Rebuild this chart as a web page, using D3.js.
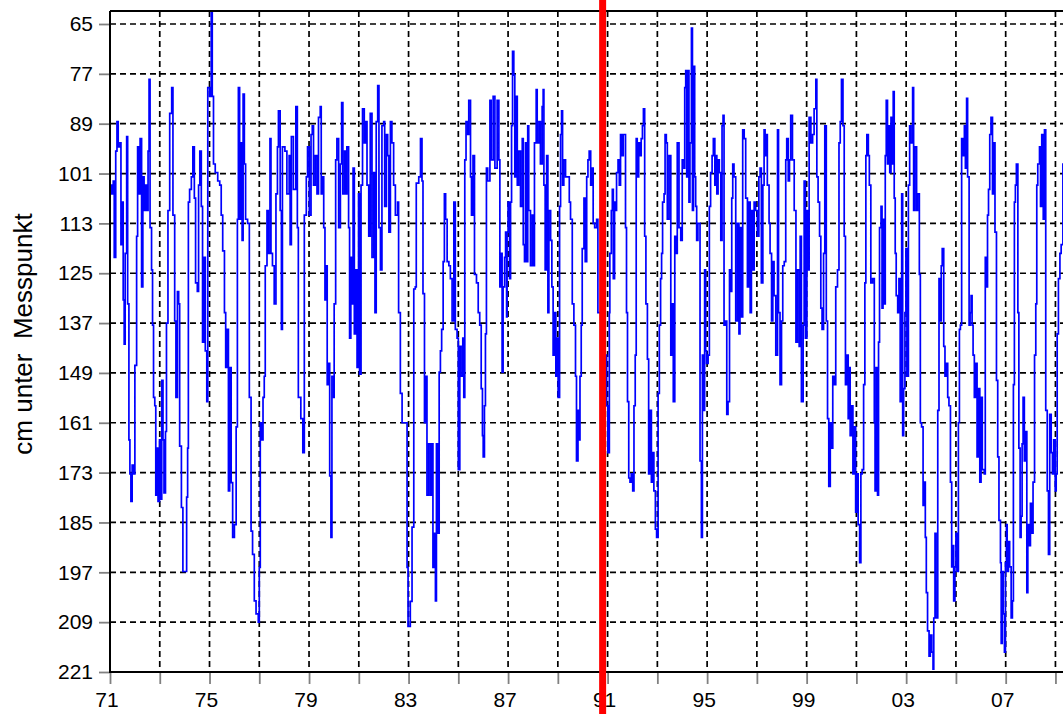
<!DOCTYPE html>
<html><head><meta charset="utf-8">
<script src="https://cdn.jsdelivr.net/npm/d3@7"></script>
<style>
html,body{margin:0;padding:0;background:#fff;}
svg{display:block;}
</style>
</head><body>
<svg id="chart" width="1063" height="714"></svg>
<script>
// ---------- data ----------
const yTickValues = [65,77,89,101,113,125,137,149,161,173,185,197,209,221];
const xTickYears = [1971,1973,1975,1977,1979,1981,1983,1985,1987,1989,1991,1993,1995,1997,1999,2001,2003,2005,2007,2009];
const xLabelYears = [1971,1975,1979,1983,1987,1991,1995,1999,2003,2007];
const markerYear = 1990.8;
const yAxisTitle = "cm unter  Messpunkt";

// groundwater level readings [year, cm below reference point]
const levels1971 = [[1971.00,103.8],[1971.07,105.9],[1971.13,102.8],[1971.17,121.2],[1971.23,95.6],[1971.28,88.5],[1971.33,94.6],[1971.40,93.6],[1971.44,118.1],[1971.49,107.9],[1971.53,131.4],[1971.57,142.1],[1971.61,120.2],[1971.67,92.1],[1971.71,132.4],[1971.76,165.1],[1971.80,173.3],[1971.84,179.9],[1971.89,171.2],[1971.95,173.3],[1972.00,147.2],[1972.07,116.1],[1972.11,94.6],[1972.16,105.9],[1972.21,92.6],[1972.27,128.3],[1972.32,101.8],[1972.37,109.9],[1972.43,103.8],[1972.48,109.9],[1972.53,95.6],[1972.57,78.3],[1972.61,114.0],[1972.67,124.2],[1972.71,137.5],[1972.75,154.9],[1972.80,156.9],[1972.84,178.4],[1972.89,167.1],[1972.93,179.9],[1972.99,165.1],[1973.04,179.4],[1973.08,150.8],[1973.13,165.1],[1973.17,177.9],[1973.23,163.1],[1973.27,137.0],[1973.33,109.9],[1973.40,86.5],[1973.48,80.3],[1973.53,111.0],[1973.60,136.5],[1973.65,154.9],[1973.71,129.4],[1973.76,132.4],[1973.80,166.6],[1973.87,181.4],[1973.93,196.8],[1974.04,196.8],[1974.08,178.9],[1974.12,167.1],[1974.15,107.9],[1974.20,104.8],[1974.27,101.8],[1974.33,94.6],[1974.39,106.9],[1974.44,127.3],[1974.51,129.4],[1974.56,103.8],[1974.61,95.6],[1974.67,108.9],[1974.72,141.6],[1974.77,121.2],[1974.83,143.7],[1974.89,155.9],[1974.93,80.3],[1975.01,82.4],[1975.07,62.0],[1975.11,82.4],[1975.16,98.7],[1975.23,100.8],[1975.33,102.8],[1975.41,103.8],[1975.47,111.0],[1975.53,119.6],[1975.60,134.5],[1975.65,147.7],[1975.71,138.5],[1975.76,177.4],[1975.81,147.7],[1975.87,175.4],[1975.93,188.6],[1976.00,185.5],[1976.07,162.0],[1976.12,112.0],[1976.16,80.3],[1976.21,112.0],[1976.27,93.6],[1976.31,117.1],[1976.35,81.9],[1976.40,98.7],[1976.45,112.0],[1976.53,113.0],[1976.60,154.9],[1976.67,187.1],[1976.73,192.7],[1976.80,203.9],[1976.87,207.0],[1976.96,209.0],[1977.00,195.8],[1977.04,161.0],[1977.09,165.1],[1977.15,154.9],[1977.20,149.8],[1977.24,123.2],[1977.31,109.9],[1977.36,120.2],[1977.43,92.6],[1977.47,120.2],[1977.53,123.2],[1977.60,132.4],[1977.67,105.9],[1977.73,94.6],[1977.77,85.9],[1977.84,109.9],[1977.89,138.5],[1977.93,94.6],[1978.03,95.6],[1978.11,105.9],[1978.20,96.7],[1978.24,118.1],[1978.29,92.1],[1978.37,104.8],[1978.47,84.9],[1978.53,114.0],[1978.57,154.9]];

const levels1979 = [[1978.67,160.0],[1978.75,168.2],[1978.81,111.0],[1978.89,101.8],[1978.94,94.6],[1979.01,111.0],[1979.08,91.6],[1979.13,89.5],[1979.18,103.8],[1979.25,96.7],[1979.32,105.9],[1979.38,87.5],[1979.45,84.9],[1979.49,105.9],[1979.53,101.8],[1979.59,114.0],[1979.64,131.4],[1979.69,123.2],[1979.73,151.8],[1979.79,146.7],[1979.83,173.8],[1979.88,188.6],[1979.92,149.8],[1979.99,154.9],[1980.01,132.4],[1980.07,97.7],[1980.12,92.6],[1980.19,114.0],[1980.26,98.7],[1980.31,83.9],[1980.36,105.9],[1980.43,95.6],[1980.48,105.9],[1980.52,94.6],[1980.59,114.0],[1980.63,140.6],[1980.68,121.2],[1980.72,132.4],[1980.77,99.7],[1980.82,139.6],[1980.87,124.2],[1980.93,147.7],[1980.99,105.9],[1981.03,149.3],[1981.09,103.8],[1981.15,85.4],[1981.22,93.6],[1981.28,88.5],[1981.33,103.8],[1981.40,116.1],[1981.46,86.5],[1981.53,121.2],[1981.60,100.8],[1981.65,134.5],[1981.70,88.5],[1981.76,79.8],[1981.81,114.0],[1981.87,124.2],[1981.93,89.5],[1982.00,88.5],[1982.04,108.9],[1982.11,91.6],[1982.16,96.7],[1982.21,115.1],[1982.27,88.5],[1982.33,93.6],[1982.40,103.8],[1982.47,111.0],[1982.56,107.9],[1982.60,134.5],[1982.67,153.9],[1982.74,161.0],[1982.94,195.8],[1982.98,210.0],[1983.07,204.0],[1983.14,186.1],[1983.21,128.8],[1983.27,128.3],[1983.31,103.3],[1983.41,101.8],[1983.48,92.6],[1983.54,102.8],[1983.58,129.9],[1983.64,161.0],[1983.70,149.8],[1983.74,178.4],[1983.81,166.1],[1983.88,178.4],[1983.94,166.1],[1983.98,195.8],[1984.04,187.6],[1984.08,203.9],[1984.12,166.1],[1984.17,187.6],[1984.23,148.8],[1984.28,143.7],[1984.33,138.5],[1984.39,122.2],[1984.44,105.9],[1984.49,112.0],[1984.55,122.2],[1984.62,123.2],[1984.68,126.3],[1984.75,136.5],[1984.82,107.9],[1984.88,138.5],[1984.95,140.6],[1985.00,172.3],[1985.06,142.6],[1985.11,149.8],[1985.18,140.6],[1985.22,154.9],[1985.26,97.7],[1985.31,88.5],[1985.38,91.6],[1985.42,83.4],[1985.49,101.8],[1985.53,111.0],[1985.59,96.7],[1985.65,125.3],[1985.73,127.3],[1985.80,134.5],[1985.86,137.5],[1985.92,152.8],[1985.97,164.1],[1986.00,169.2],[1986.05,156.9],[1986.09,139.6],[1986.13,99.7],[1986.18,102.8],[1986.27,83.4],[1986.32,97.7],[1986.40,82.4],[1986.47,99.7]];

const levels1987 = [[1986.56,83.4],[1986.63,97.7],[1986.67,128.3],[1986.72,120.2],[1986.76,148.8],[1986.80,128.3],[1986.86,121.2],[1986.90,115.1],[1986.94,135.5],[1986.96,115.1],[1987.00,107.9],[1987.06,126.3],[1987.10,107.9],[1987.14,89.5],[1987.18,71.6],[1987.23,77.3],[1987.27,101.8],[1987.31,82.4],[1987.37,103.8],[1987.43,95.6],[1987.50,108.9],[1987.57,92.6],[1987.61,118.1],[1987.66,122.2],[1987.70,93.6],[1987.74,122.2],[1987.79,89.5],[1987.83,109.9],[1987.90,123.2],[1987.97,111.0],[1988.01,123.2],[1988.06,93.6],[1988.13,80.8],[1988.17,93.6],[1988.24,88.5],[1988.30,98.7],[1988.37,84.9],[1988.41,80.8],[1988.44,103.8],[1988.49,124.2],[1988.55,96.7],[1988.60,134.5],[1988.64,109.9],[1988.71,117.1],[1988.76,128.3],[1988.81,144.7],[1988.87,134.5],[1988.92,149.8],[1988.97,140.6],[1989.01,154.9],[1989.07,108.9],[1989.11,91.6],[1989.15,85.9],[1989.19,103.8],[1989.24,97.7],[1989.31,101.8],[1989.38,101.8],[1989.46,107.9],[1989.51,112.0],[1989.58,132.4],[1989.645,137.5],[1989.71,149.8],[1989.75,170.2],[1989.81,158.0],[1989.85,165.1],[1989.89,149.8],[1989.94,137.5],[1989.98,119.1],[1990.05,106.9],[1990.10,122.2],[1990.16,101.8],[1990.21,97.7],[1990.26,95.6],[1990.32,103.8],[1990.37,99.7],[1990.42,113.0],[1990.48,114.0],[1990.56,112.0],[1990.61,134.5],[1990.79,144.7],[1990.96,156.9],[1991.01,168.2],[1991.07,134.5],[1991.09,120.2],[1991.15,109.9],[1991.19,104.8],[1991.23,126.3],[1991.28,107.9],[1991.32,109.9],[1991.36,100.8],[1991.42,97.7],[1991.47,103.8],[1991.52,91.6],[1991.58,96.7],[1991.63,91.6],[1991.68,91.6],[1991.72,114.0],[1991.76,134.5],[1991.80,155.9],[1991.85,174.3],[1991.90,175.3],[1991.95,173.3],[1992.01,177.4],[1992.06,156.9],[1992.11,144.7],[1992.15,92.6],[1992.19,101.8],[1992.25,93.6],[1992.30,96.7],[1992.35,92.6],[1992.40,89.5],[1992.44,85.4],[1992.49,116.1],[1992.54,132.4],[1992.60,145.7],[1992.65,173.3],[1992.70,158.0],[1992.76,175.3],[1992.81,168.2],[1992.86,177.4],[1992.92,186.6],[1992.97,188.6],[1993.03,153.9],[1993.08,137.5],[1993.13,126.3],[1993.17,120.2],[1993.21,107.9],[1993.27,105.9],[1993.31,91.6],[1993.36,93.6],[1993.40,112.0],[1993.47,96.7],[1993.54,144.7],[1993.60,132.4],[1993.64,155.9],[1993.70,116.1],[1993.74,120.2],[1993.80,93.6],[1993.87,114.0],[1993.94,117.1],[1994.00,97.7],[1994.07,99.7]];

const levels1995 = [[1994.10,80.3],[1994.14,76.2],[1994.18,101.8],[1994.23,76.2],[1994.27,107.9],[1994.31,93.6],[1994.37,66.0],[1994.41,109.9],[1994.45,75.2],[1994.50,101.8],[1994.54,108.9],[1994.58,117.1],[1994.63,113.0],[1994.69,113.0],[1994.715,170.2],[1994.77,188.6],[1994.81,144.7],[1994.85,158.0],[1994.90,124.2],[1994.94,143.7],[1994.98,146.7],[1995.04,144.7],[1995.09,108.9],[1995.14,100.8],[1995.20,96.7],[1995.25,92.6],[1995.31,103.8],[1995.35,96.7],[1995.39,105.9],[1995.44,97.7],[1995.49,100.8],[1995.55,117.1],[1995.60,89.5],[1995.64,87.0],[1995.68,137.5],[1995.73,136.5],[1995.79,159.0],[1995.84,155.9],[1995.90,124.2],[1995.95,129.4],[1995.99,106.9],[1996.03,98.7],[1996.08,101.8],[1996.15,136.5],[1996.22,113.0],[1996.28,139.6],[1996.32,114.0],[1996.38,135.5],[1996.43,90.5],[1996.49,92.6],[1996.55,106.9],[1996.62,128.3],[1996.67,107.9],[1996.73,134.5],[1996.78,109.9],[1996.83,124.2],[1996.89,107.9],[1996.95,109.9],[1997.02,116.1],[1997.08,101.8],[1997.13,99.7],[1997.18,127.3],[1997.24,103.8],[1997.29,90.5],[1997.33,96.7],[1997.38,91.6],[1997.42,103.8],[1997.49,113.0],[1997.53,120.2],[1997.59,136.5],[1997.64,122.2],[1997.69,130.4],[1997.76,144.7],[1997.83,90.5],[1997.87,134.5],[1997.93,151.8],[1997.99,136.5],[1998.04,123.2],[1998.10,122.2],[1998.16,97.7],[1998.20,92.6],[1998.26,102.8],[1998.31,97.7],[1998.36,87.0],[1998.43,97.7],[1998.50,109.9],[1998.57,141.6],[1998.63,124.2],[1998.70,142.6],[1998.74,116.1],[1998.79,155.9],[1998.86,137.5],[1998.90,102.8],[1998.95,140.6],[1999.01,109.9],[1999.06,124.2],[1999.10,87.5],[1999.17,93.6],[1999.24,91.6],[1999.30,85.4],[1999.37,78.3],[1999.41,101.8],[1999.46,107.9],[1999.52,116.1],[1999.57,133.4],[1999.62,138.5],[1999.68,120.2],[1999.73,89.5],[1999.79,136.5],[1999.84,160.0],[1999.89,176.3],[1999.95,161.0],[2000.00,167.1],[2000.05,149.8],[2000.11,151.8],[2000.17,128.3],[2000.24,124.2],[2000.30,93.6],[2000.35,88.5],[2000.40,78.3],[2000.46,89.5],[2000.51,116.1],[2000.56,151.8],[2000.62,144.7],[2000.67,160.0],[2000.71,147.7],[2000.75,164.1],[2000.80,156.9],[2000.86,173.3],[2000.91,162.0],[2000.97,182.5],[2001.02,173.3],[2001.07,185.5],[2001.13,194.7],[2001.18,173.3],[2001.23,172.3],[2001.29,151.8],[2001.34,127.3],[2001.38,96.7],[2001.42,91.6],[2001.48,96.7],[2001.52,103.8],[2001.58,127.3],[2001.65,126.3],[2001.72,161.0]];

const levels2002 = [[2001.75,177.4],[2001.79,147.7],[2001.83,175.3],[2001.85,178.4],[2001.89,141.6],[2001.93,114.0],[2001.99,108.9],[2002.03,133.4],[2002.07,112.0],[2002.12,132.4],[2002.16,96.7],[2002.20,83.4],[2002.25,98.7],[2002.30,89.5],[2002.34,100.8],[2002.39,87.5],[2002.43,98.7],[2002.48,81.3],[2002.52,106.9],[2002.56,120.2],[2002.60,130.4],[2002.66,134.5],[2002.71,126.3],[2002.76,155.9],[2002.82,105.9],[2002.86,164.1],[2002.90,152.8],[2002.95,134.5],[2002.99,119.1],[2003.03,149.8],[2003.09,103.8],[2003.14,89.5],[2003.19,93.6],[2003.26,80.3],[2003.30,109.9],[2003.35,94.6],[2003.42,109.9],[2003.46,105.9],[2003.53,125.3],[2003.57,161.0],[2003.62,162.0],[2003.68,180.9],[2003.73,175.3],[2003.77,188.6],[2003.81,201.9],[2003.86,211.1],[2003.92,217.2],[2003.97,212.1],[2004.03,216.2],[2004.08,220.3],[2004.11,208.0],[2004.16,187.6],[2004.20,208.0],[2004.27,158.0],[2004.32,126.3],[2004.37,136.5],[2004.41,123.2],[2004.45,119.1],[2004.51,142.6],[2004.56,149.8],[2004.62,146.7],[2004.67,154.9],[2004.72,156.9],[2004.78,175.3],[2004.83,195.7],[2004.87,190.6],[2004.91,203.9],[2004.96,195.7],[2005.00,187.6],[2005.04,196.8],[2005.10,161.0],[2005.14,138.5],[2005.18,137.5],[2005.23,92.6],[2005.29,96.7],[2005.34,89.5],[2005.38,99.7],[2005.43,82.9],[2005.47,101.8],[2005.53,137.5],[2005.57,134.5],[2005.61,130.4],[2005.65,137.5],[2005.69,144.7],[2005.74,154.9],[2005.80,146.7],[2005.85,169.2],[2005.90,152.8],[2005.96,175.3],[2006.01,154.9],[2006.06,172.3],[2006.14,173.3],[2006.18,121.2],[2006.23,128.3],[2006.27,111.0],[2006.31,104.8],[2006.36,91.6],[2006.41,87.5],[2006.47,105.9],[2006.52,93.6],[2006.57,115.1],[2006.63,150.8],[2006.68,169.2],[2006.73,184.5],[2006.79,194.7],[2006.82,214.1],[2006.86,196.8],[2006.90,207.0],[2006.95,216.2],[2006.99,194.7],[2007.03,185.5],[2007.06,196.8],[2007.11,189.6],[2007.16,195.7],[2007.22,208.0],[2007.27,203.9],[2007.31,151.8],[2007.35,107.9],[2007.39,103.8],[2007.43,98.7],[2007.49,134.5],[2007.53,167.1],[2007.58,188.6],[2007.62,183.5],[2007.66,166.1],[2007.70,154.9],[2007.75,170.2],[2007.81,163.1],[2007.85,201.9],[2007.89,185.5],[2007.94,190.6],[2007.995,180.4],[2008.05,187.6],[2008.10,175.3],[2008.16,144.7],[2008.21,132.4],[2008.25,103.8],[2008.29,98.7],[2008.36,94.6],[2008.40,108.9],[2008.45,91.6],[2008.51,112.0],[2008.56,90.5],[2008.61,158.0],[2008.67,177.4],[2008.72,192.7],[2008.77,159.0],[2008.83,168.2],[2008.88,173.3],[2008.93,165.1],[2008.99,177.4],[2009.03,173.3],[2009.07,139.6],[2009.12,126.3],[2009.18,120.2],[2009.23,118.1],[2009.30,98.7],[2009.35,100.8]];

const readings = [].concat(levels1971, levels1979, levels1987, levels1995, levels2002);

// ---------- layout ----------
const W = 1063, H = 714;
const plot = {left: 110, top: 11, bottom: 672};
const FONT = "'Liberation Sans', Arial, sans-serif";

const x = d3.scaleLinear().domain([1971, 2010]).range([110, 110 + 39 * 24.88]);
const y = d3.scaleLinear().domain([65, 221]).range([24, 672]);

const svg = d3.select("#chart");
svg.append("rect").attr("width", W).attr("height", H).attr("fill", "#fff");

svg.append("defs").append("clipPath").attr("id", "plotClip")
  .append("rect").attr("x", plot.left).attr("y", plot.top)
  .attr("width", W - plot.left).attr("height", plot.bottom - plot.top);

// grid
const grid = svg.append("g").attr("stroke", "#000").attr("stroke-width", 1.7)
  .attr("stroke-dasharray", "6,4").attr("fill", "none");
grid.selectAll("line.h").data(yTickValues.filter(v => v !== 221)).join("line")
  .attr("class", "h").attr("x1", plot.left).attr("x2", W)
  .attr("y1", d => y(d)).attr("y2", d => y(d));
grid.selectAll("line.v").data(xTickYears.filter(v => v !== 1971)).join("line")
  .attr("class", "v").attr("y1", plot.top).attr("y2", plot.bottom)
  .attr("x1", d => x(d)).attr("x2", d => x(d));

// data line
const line = d3.line().x(d => x(d[0])).y(d => y(d[1])).curve(d3.curveStepAfter);
svg.append("path").datum(readings)
  .attr("clip-path", "url(#plotClip)")
  .attr("fill", "none").attr("stroke", "#0000ff").attr("stroke-width", 1.7)
  .attr("d", line);

// axes
const yAxis = d3.axisLeft(y).tickValues(yTickValues).tickSize(11).tickPadding(6);
const gy = svg.append("g").attr("transform", `translate(${plot.left},0)`).call(yAxis);
gy.select(".domain").remove();
gy.selectAll(".tick line").attr("stroke", "#808080").attr("stroke-width", 1.8);
gy.selectAll(".tick text").attr("fill", "#000").style("font-family", FONT).style("font-size", "21px");

const xAxis = d3.axisBottom(x).tickValues(xTickYears).tickSize(12).tickPadding(8)
  .tickFormat(d => xLabelYears.includes(d) ? String(d).slice(2) : "");
const gx = svg.append("g").attr("transform", `translate(0,${plot.bottom})`).call(xAxis);
gx.select(".domain").remove();
gx.selectAll(".tick line").attr("stroke", "#808080").attr("stroke-width", 1.8);
gx.selectAll(".tick text").attr("fill", "#000").attr("dx", -3.5)
  .style("font-family", FONT).style("font-size", "21px");

// frame
const frame = svg.append("g").attr("stroke", "#000").attr("stroke-width", 2).attr("fill", "none");
frame.append("line").attr("x1", plot.left).attr("x2", W).attr("y1", plot.top).attr("y2", plot.top);
frame.append("line").attr("x1", plot.left).attr("x2", plot.left).attr("y1", plot.top).attr("y2", plot.bottom + 1);
frame.append("line").attr("x1", plot.left - 1).attr("x2", W).attr("y1", plot.bottom).attr("y2", plot.bottom);

// y-axis title
svg.append("text")
  .attr("transform", `translate(32,334) rotate(-90)`)
  .attr("text-anchor", "middle")
  .style("white-space", "pre")
  .style("font-family", FONT).style("font-size", "26px").attr("fill", "#000")
  .text(yAxisTitle);

// red marker line
svg.append("line")
  .attr("x1", x(markerYear)).attr("x2", x(markerYear))
  .attr("y1", 0).attr("y2", H)
  .attr("stroke", "#ff0000").attr("stroke-width", 7);
</script>
</body></html>
